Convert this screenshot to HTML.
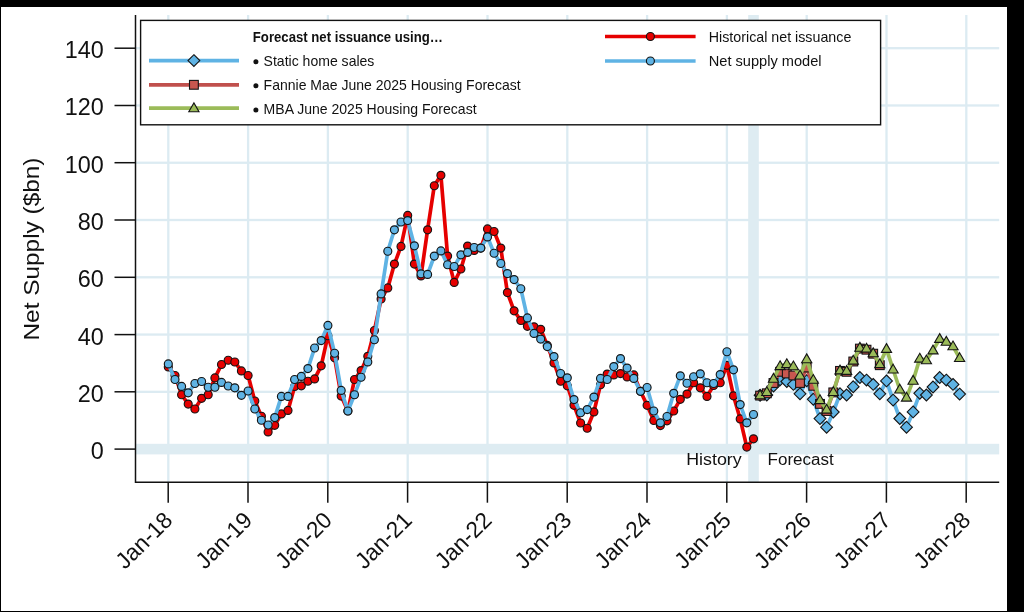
<!DOCTYPE html>
<html><head><meta charset="utf-8"><title>Net Supply</title>
<style>
html,body{margin:0;padding:0;background:#000;}
body{width:1024px;height:612px;overflow:hidden;}
svg{display:block;will-change:transform;}
.t{font-family:"Liberation Sans",sans-serif;fill:#111;}
</style></head><body>
<svg width="1024" height="612" viewBox="0 0 1024 612">
<rect x="0" y="0" width="1024" height="612" fill="#000"/>
<rect x="1" y="7" width="1006" height="604" fill="#fff"/>
<rect x="167.15" y="15" width="2.3" height="467" fill="#dcebf2"/>
<rect x="246.95" y="15" width="2.3" height="467" fill="#dcebf2"/>
<rect x="326.75" y="15" width="2.3" height="467" fill="#dcebf2"/>
<rect x="406.55" y="15" width="2.3" height="467" fill="#dcebf2"/>
<rect x="486.35" y="15" width="2.3" height="467" fill="#dcebf2"/>
<rect x="566.15" y="15" width="2.3" height="467" fill="#dcebf2"/>
<rect x="645.95" y="15" width="2.3" height="467" fill="#dcebf2"/>
<rect x="725.75" y="15" width="2.3" height="467" fill="#dcebf2"/>
<rect x="805.55" y="15" width="2.3" height="467" fill="#dcebf2"/>
<rect x="885.35" y="15" width="2.3" height="467" fill="#dcebf2"/>
<rect x="965.15" y="15" width="2.3" height="467" fill="#dcebf2"/>
<rect x="136" y="390.68" width="863.2" height="2.3" fill="#dcebf2"/>
<rect x="136" y="333.41" width="863.2" height="2.3" fill="#dcebf2"/>
<rect x="136" y="276.14" width="863.2" height="2.3" fill="#dcebf2"/>
<rect x="136" y="218.86" width="863.2" height="2.3" fill="#dcebf2"/>
<rect x="136" y="161.59" width="863.2" height="2.3" fill="#dcebf2"/>
<rect x="136" y="104.32" width="863.2" height="2.3" fill="#dcebf2"/>
<rect x="136" y="47.05" width="863.2" height="2.3" fill="#dcebf2"/>
<rect x="136" y="443.8" width="863.2" height="10.6" fill="#deecf2"/>
<rect x="748.2" y="15" width="10.6" height="467" fill="#deecf2"/>
<path d="M135.5 15 V482.2 H999.2" fill="none" stroke="#111" stroke-width="1.5"/>
<path d="M114.5 449.1 H135.5" stroke="#111" stroke-width="1.5"/>
<path d="M114.5 391.8 H135.5" stroke="#111" stroke-width="1.5"/>
<path d="M114.5 334.6 H135.5" stroke="#111" stroke-width="1.5"/>
<path d="M114.5 277.3 H135.5" stroke="#111" stroke-width="1.5"/>
<path d="M114.5 220.0 H135.5" stroke="#111" stroke-width="1.5"/>
<path d="M114.5 162.7 H135.5" stroke="#111" stroke-width="1.5"/>
<path d="M114.5 105.5 H135.5" stroke="#111" stroke-width="1.5"/>
<path d="M114.5 48.2 H135.5" stroke="#111" stroke-width="1.5"/>
<path d="M168.2 482.2 V502.7" stroke="#111" stroke-width="1.5"/>
<path d="M248.0 482.2 V502.7" stroke="#111" stroke-width="1.5"/>
<path d="M327.8 482.2 V502.7" stroke="#111" stroke-width="1.5"/>
<path d="M407.6 482.2 V502.7" stroke="#111" stroke-width="1.5"/>
<path d="M487.4 482.2 V502.7" stroke="#111" stroke-width="1.5"/>
<path d="M567.2 482.2 V502.7" stroke="#111" stroke-width="1.5"/>
<path d="M647.0 482.2 V502.7" stroke="#111" stroke-width="1.5"/>
<path d="M726.8 482.2 V502.7" stroke="#111" stroke-width="1.5"/>
<path d="M806.6 482.2 V502.7" stroke="#111" stroke-width="1.5"/>
<path d="M886.4 482.2 V502.7" stroke="#111" stroke-width="1.5"/>
<path d="M966.2 482.2 V502.7" stroke="#111" stroke-width="1.5"/>
<text x="103.8" y="459.0" text-anchor="end" font-size="23.4" class="t">0</text>
<text x="103.8" y="401.7" text-anchor="end" font-size="23.4" class="t">20</text>
<text x="103.8" y="344.5" text-anchor="end" font-size="23.4" class="t">40</text>
<text x="103.8" y="287.2" text-anchor="end" font-size="23.4" class="t">60</text>
<text x="103.8" y="229.9" text-anchor="end" font-size="23.4" class="t">80</text>
<text x="103.8" y="172.6" text-anchor="end" font-size="23.4" class="t">100</text>
<text x="103.8" y="115.4" text-anchor="end" font-size="23.4" class="t">120</text>
<text x="103.8" y="58.1" text-anchor="end" font-size="23.4" class="t">140</text>
<text transform="translate(173.9,521.5) rotate(-45)" text-anchor="end" font-size="23" textLength="69" lengthAdjust="spacingAndGlyphs" class="t">Jan-18</text>
<text transform="translate(253.7,521.5) rotate(-45)" text-anchor="end" font-size="23" textLength="69" lengthAdjust="spacingAndGlyphs" class="t">Jan-19</text>
<text transform="translate(333.5,521.5) rotate(-45)" text-anchor="end" font-size="23" textLength="69" lengthAdjust="spacingAndGlyphs" class="t">Jan-20</text>
<text transform="translate(413.3,521.5) rotate(-45)" text-anchor="end" font-size="23" textLength="69" lengthAdjust="spacingAndGlyphs" class="t">Jan-21</text>
<text transform="translate(493.1,521.5) rotate(-45)" text-anchor="end" font-size="23" textLength="69" lengthAdjust="spacingAndGlyphs" class="t">Jan-22</text>
<text transform="translate(572.9,521.5) rotate(-45)" text-anchor="end" font-size="23" textLength="69" lengthAdjust="spacingAndGlyphs" class="t">Jan-23</text>
<text transform="translate(652.7,521.5) rotate(-45)" text-anchor="end" font-size="23" textLength="69" lengthAdjust="spacingAndGlyphs" class="t">Jan-24</text>
<text transform="translate(732.5,521.5) rotate(-45)" text-anchor="end" font-size="23" textLength="69" lengthAdjust="spacingAndGlyphs" class="t">Jan-25</text>
<text transform="translate(812.3,521.5) rotate(-45)" text-anchor="end" font-size="23" textLength="69" lengthAdjust="spacingAndGlyphs" class="t">Jan-26</text>
<text transform="translate(892.1,521.5) rotate(-45)" text-anchor="end" font-size="23" textLength="69" lengthAdjust="spacingAndGlyphs" class="t">Jan-27</text>
<text transform="translate(971.9,521.5) rotate(-45)" text-anchor="end" font-size="23" textLength="69" lengthAdjust="spacingAndGlyphs" class="t">Jan-28</text>
<text transform="translate(38.6,249) rotate(-90)" text-anchor="middle" font-size="22.9" textLength="183" lengthAdjust="spacingAndGlyphs" class="t">Net Supply ($bn)</text>
<polyline fill="none" stroke="#e60000" stroke-width="3.7" stroke-linejoin="round" stroke-linecap="round" points="168.3,366.9 175.0,375.5 181.6,394.7 188.2,404.1 194.9,409.0 201.6,398.3 208.2,394.7 214.9,377.9 221.5,364.5 228.2,360.2 234.8,362.0 241.4,370.9 248.1,375.5 254.8,401.0 261.4,416.2 268.1,431.9 274.7,425.3 281.4,413.9 288.0,410.4 294.6,386.5 301.3,385.8 307.9,381.2 314.6,378.9 321.2,365.8 327.9,335.7 334.6,357.8 341.2,396.1 347.9,411.0 354.5,379.5 361.1,370.6 367.8,356.3 374.4,330.5 381.1,299.0 387.8,287.9 394.4,264.1 401.0,246.4 407.7,215.4 414.4,264.1 421.0,275.9 427.6,229.8 434.3,185.7 440.9,175.3 447.6,256.1 454.2,282.4 460.9,269.0 467.6,246.1 474.2,250.4 480.8,248.1 487.5,228.9 494.1,231.5 500.8,248.1 507.4,292.6 514.1,310.8 520.8,320.5 527.4,326.3 534.0,326.8 540.7,329.3 547.3,345.4 554.0,362.9 560.6,381.2 567.3,385.8 574.0,405.3 580.6,423.0 587.2,428.2 593.9,411.9 600.5,384.7 607.2,374.1 613.8,374.9 620.5,373.6 627.1,376.9 633.8,374.9 640.5,391.3 647.1,405.3 653.8,420.5 660.4,425.6 667.0,420.8 673.7,411.0 680.3,399.3 687.0,394.1 693.6,382.7 700.3,387.8 707.0,396.4 713.6,385.5 720.2,382.7 726.9,365.3 733.5,395.8 740.2,418.9 746.8,447.1 753.5,438.8"/>
<circle cx="168.3" cy="366.9" r="4.0" fill="#e60000" stroke="#141414" stroke-width="1.15"/>
<circle cx="175.0" cy="375.5" r="4.0" fill="#e60000" stroke="#141414" stroke-width="1.15"/>
<circle cx="181.6" cy="394.7" r="4.0" fill="#e60000" stroke="#141414" stroke-width="1.15"/>
<circle cx="188.2" cy="404.1" r="4.0" fill="#e60000" stroke="#141414" stroke-width="1.15"/>
<circle cx="194.9" cy="409.0" r="4.0" fill="#e60000" stroke="#141414" stroke-width="1.15"/>
<circle cx="201.6" cy="398.3" r="4.0" fill="#e60000" stroke="#141414" stroke-width="1.15"/>
<circle cx="208.2" cy="394.7" r="4.0" fill="#e60000" stroke="#141414" stroke-width="1.15"/>
<circle cx="214.9" cy="377.9" r="4.0" fill="#e60000" stroke="#141414" stroke-width="1.15"/>
<circle cx="221.5" cy="364.5" r="4.0" fill="#e60000" stroke="#141414" stroke-width="1.15"/>
<circle cx="228.2" cy="360.2" r="4.0" fill="#e60000" stroke="#141414" stroke-width="1.15"/>
<circle cx="234.8" cy="362.0" r="4.0" fill="#e60000" stroke="#141414" stroke-width="1.15"/>
<circle cx="241.4" cy="370.9" r="4.0" fill="#e60000" stroke="#141414" stroke-width="1.15"/>
<circle cx="248.1" cy="375.5" r="4.0" fill="#e60000" stroke="#141414" stroke-width="1.15"/>
<circle cx="254.8" cy="401.0" r="4.0" fill="#e60000" stroke="#141414" stroke-width="1.15"/>
<circle cx="261.4" cy="416.2" r="4.0" fill="#e60000" stroke="#141414" stroke-width="1.15"/>
<circle cx="268.1" cy="431.9" r="4.0" fill="#e60000" stroke="#141414" stroke-width="1.15"/>
<circle cx="274.7" cy="425.3" r="4.0" fill="#e60000" stroke="#141414" stroke-width="1.15"/>
<circle cx="281.4" cy="413.9" r="4.0" fill="#e60000" stroke="#141414" stroke-width="1.15"/>
<circle cx="288.0" cy="410.4" r="4.0" fill="#e60000" stroke="#141414" stroke-width="1.15"/>
<circle cx="294.6" cy="386.5" r="4.0" fill="#e60000" stroke="#141414" stroke-width="1.15"/>
<circle cx="301.3" cy="385.8" r="4.0" fill="#e60000" stroke="#141414" stroke-width="1.15"/>
<circle cx="307.9" cy="381.2" r="4.0" fill="#e60000" stroke="#141414" stroke-width="1.15"/>
<circle cx="314.6" cy="378.9" r="4.0" fill="#e60000" stroke="#141414" stroke-width="1.15"/>
<circle cx="321.2" cy="365.8" r="4.0" fill="#e60000" stroke="#141414" stroke-width="1.15"/>
<circle cx="327.9" cy="335.7" r="4.0" fill="#e60000" stroke="#141414" stroke-width="1.15"/>
<circle cx="334.6" cy="357.8" r="4.0" fill="#e60000" stroke="#141414" stroke-width="1.15"/>
<circle cx="341.2" cy="396.1" r="4.0" fill="#e60000" stroke="#141414" stroke-width="1.15"/>
<circle cx="347.9" cy="411.0" r="4.0" fill="#e60000" stroke="#141414" stroke-width="1.15"/>
<circle cx="354.5" cy="379.5" r="4.0" fill="#e60000" stroke="#141414" stroke-width="1.15"/>
<circle cx="361.1" cy="370.6" r="4.0" fill="#e60000" stroke="#141414" stroke-width="1.15"/>
<circle cx="367.8" cy="356.3" r="4.0" fill="#e60000" stroke="#141414" stroke-width="1.15"/>
<circle cx="374.4" cy="330.5" r="4.0" fill="#e60000" stroke="#141414" stroke-width="1.15"/>
<circle cx="381.1" cy="299.0" r="4.0" fill="#e60000" stroke="#141414" stroke-width="1.15"/>
<circle cx="387.8" cy="287.9" r="4.0" fill="#e60000" stroke="#141414" stroke-width="1.15"/>
<circle cx="394.4" cy="264.1" r="4.0" fill="#e60000" stroke="#141414" stroke-width="1.15"/>
<circle cx="401.0" cy="246.4" r="4.0" fill="#e60000" stroke="#141414" stroke-width="1.15"/>
<circle cx="407.7" cy="215.4" r="4.0" fill="#e60000" stroke="#141414" stroke-width="1.15"/>
<circle cx="414.4" cy="264.1" r="4.0" fill="#e60000" stroke="#141414" stroke-width="1.15"/>
<circle cx="421.0" cy="275.9" r="4.0" fill="#e60000" stroke="#141414" stroke-width="1.15"/>
<circle cx="427.6" cy="229.8" r="4.0" fill="#e60000" stroke="#141414" stroke-width="1.15"/>
<circle cx="434.3" cy="185.7" r="4.0" fill="#e60000" stroke="#141414" stroke-width="1.15"/>
<circle cx="440.9" cy="175.3" r="4.0" fill="#e60000" stroke="#141414" stroke-width="1.15"/>
<circle cx="447.6" cy="256.1" r="4.0" fill="#e60000" stroke="#141414" stroke-width="1.15"/>
<circle cx="454.2" cy="282.4" r="4.0" fill="#e60000" stroke="#141414" stroke-width="1.15"/>
<circle cx="460.9" cy="269.0" r="4.0" fill="#e60000" stroke="#141414" stroke-width="1.15"/>
<circle cx="467.6" cy="246.1" r="4.0" fill="#e60000" stroke="#141414" stroke-width="1.15"/>
<circle cx="474.2" cy="250.4" r="4.0" fill="#e60000" stroke="#141414" stroke-width="1.15"/>
<circle cx="480.8" cy="248.1" r="4.0" fill="#e60000" stroke="#141414" stroke-width="1.15"/>
<circle cx="487.5" cy="228.9" r="4.0" fill="#e60000" stroke="#141414" stroke-width="1.15"/>
<circle cx="494.1" cy="231.5" r="4.0" fill="#e60000" stroke="#141414" stroke-width="1.15"/>
<circle cx="500.8" cy="248.1" r="4.0" fill="#e60000" stroke="#141414" stroke-width="1.15"/>
<circle cx="507.4" cy="292.6" r="4.0" fill="#e60000" stroke="#141414" stroke-width="1.15"/>
<circle cx="514.1" cy="310.8" r="4.0" fill="#e60000" stroke="#141414" stroke-width="1.15"/>
<circle cx="520.8" cy="320.5" r="4.0" fill="#e60000" stroke="#141414" stroke-width="1.15"/>
<circle cx="527.4" cy="326.3" r="4.0" fill="#e60000" stroke="#141414" stroke-width="1.15"/>
<circle cx="534.0" cy="326.8" r="4.0" fill="#e60000" stroke="#141414" stroke-width="1.15"/>
<circle cx="540.7" cy="329.3" r="4.0" fill="#e60000" stroke="#141414" stroke-width="1.15"/>
<circle cx="547.3" cy="345.4" r="4.0" fill="#e60000" stroke="#141414" stroke-width="1.15"/>
<circle cx="554.0" cy="362.9" r="4.0" fill="#e60000" stroke="#141414" stroke-width="1.15"/>
<circle cx="560.6" cy="381.2" r="4.0" fill="#e60000" stroke="#141414" stroke-width="1.15"/>
<circle cx="567.3" cy="385.8" r="4.0" fill="#e60000" stroke="#141414" stroke-width="1.15"/>
<circle cx="574.0" cy="405.3" r="4.0" fill="#e60000" stroke="#141414" stroke-width="1.15"/>
<circle cx="580.6" cy="423.0" r="4.0" fill="#e60000" stroke="#141414" stroke-width="1.15"/>
<circle cx="587.2" cy="428.2" r="4.0" fill="#e60000" stroke="#141414" stroke-width="1.15"/>
<circle cx="593.9" cy="411.9" r="4.0" fill="#e60000" stroke="#141414" stroke-width="1.15"/>
<circle cx="600.5" cy="384.7" r="4.0" fill="#e60000" stroke="#141414" stroke-width="1.15"/>
<circle cx="607.2" cy="374.1" r="4.0" fill="#e60000" stroke="#141414" stroke-width="1.15"/>
<circle cx="613.8" cy="374.9" r="4.0" fill="#e60000" stroke="#141414" stroke-width="1.15"/>
<circle cx="620.5" cy="373.6" r="4.0" fill="#e60000" stroke="#141414" stroke-width="1.15"/>
<circle cx="627.1" cy="376.9" r="4.0" fill="#e60000" stroke="#141414" stroke-width="1.15"/>
<circle cx="633.8" cy="374.9" r="4.0" fill="#e60000" stroke="#141414" stroke-width="1.15"/>
<circle cx="640.5" cy="391.3" r="4.0" fill="#e60000" stroke="#141414" stroke-width="1.15"/>
<circle cx="647.1" cy="405.3" r="4.0" fill="#e60000" stroke="#141414" stroke-width="1.15"/>
<circle cx="653.8" cy="420.5" r="4.0" fill="#e60000" stroke="#141414" stroke-width="1.15"/>
<circle cx="660.4" cy="425.6" r="4.0" fill="#e60000" stroke="#141414" stroke-width="1.15"/>
<circle cx="667.0" cy="420.8" r="4.0" fill="#e60000" stroke="#141414" stroke-width="1.15"/>
<circle cx="673.7" cy="411.0" r="4.0" fill="#e60000" stroke="#141414" stroke-width="1.15"/>
<circle cx="680.3" cy="399.3" r="4.0" fill="#e60000" stroke="#141414" stroke-width="1.15"/>
<circle cx="687.0" cy="394.1" r="4.0" fill="#e60000" stroke="#141414" stroke-width="1.15"/>
<circle cx="693.6" cy="382.7" r="4.0" fill="#e60000" stroke="#141414" stroke-width="1.15"/>
<circle cx="700.3" cy="387.8" r="4.0" fill="#e60000" stroke="#141414" stroke-width="1.15"/>
<circle cx="707.0" cy="396.4" r="4.0" fill="#e60000" stroke="#141414" stroke-width="1.15"/>
<circle cx="713.6" cy="385.5" r="4.0" fill="#e60000" stroke="#141414" stroke-width="1.15"/>
<circle cx="720.2" cy="382.7" r="4.0" fill="#e60000" stroke="#141414" stroke-width="1.15"/>
<circle cx="726.9" cy="365.3" r="4.0" fill="#e60000" stroke="#141414" stroke-width="1.15"/>
<circle cx="733.5" cy="395.8" r="4.0" fill="#e60000" stroke="#141414" stroke-width="1.15"/>
<circle cx="740.2" cy="418.9" r="4.0" fill="#e60000" stroke="#141414" stroke-width="1.15"/>
<circle cx="746.8" cy="447.1" r="4.0" fill="#e60000" stroke="#141414" stroke-width="1.15"/>
<circle cx="753.5" cy="438.8" r="4.0" fill="#e60000" stroke="#141414" stroke-width="1.15"/>
<polyline fill="none" stroke="#5fb3e4" stroke-width="3.7" stroke-linejoin="round" stroke-linecap="round" points="168.3,363.9 175.0,379.5 181.6,386.4 188.2,392.8 194.9,383.5 201.6,381.5 208.2,387.2 214.9,387.2 221.5,382.4 228.2,386.0 234.8,387.8 241.4,395.3 248.1,391.0 254.8,409.0 261.4,420.2 268.1,425.0 274.7,417.6 281.4,396.4 288.0,396.4 294.6,379.5 301.3,376.4 307.9,368.6 314.6,348.0 321.2,340.6 327.9,325.4 334.6,353.2 341.2,390.4 347.9,411.0 354.5,394.7 361.1,377.2 367.8,361.9 374.4,339.7 381.1,293.9 387.8,251.2 394.4,229.8 401.0,222.0 407.7,220.6 414.4,245.8 421.0,273.8 427.6,274.4 434.3,256.1 440.9,250.9 447.6,264.7 454.2,266.5 460.9,254.8 467.6,252.4 474.2,247.5 480.8,248.1 487.5,236.9 494.1,253.2 500.8,263.5 507.4,273.6 514.1,279.6 520.8,288.7 527.4,317.9 534.0,333.4 540.7,339.1 547.3,346.6 554.0,356.6 560.6,373.5 567.3,377.8 574.0,399.6 580.6,412.7 587.2,409.6 593.9,397.1 600.5,378.4 607.2,379.5 613.8,366.6 620.5,358.6 627.1,368.1 633.8,378.4 640.5,391.3 647.1,387.5 653.8,411.0 660.4,422.8 667.0,416.5 673.7,393.3 680.3,375.8 687.0,383.2 693.6,376.7 700.3,373.8 707.0,382.7 713.6,383.5 720.2,374.6 726.9,351.7 733.5,369.8 740.2,404.6 746.8,422.8 753.5,414.5"/>
<circle cx="168.3" cy="363.9" r="4.0" fill="#5fb3e4" stroke="#141414" stroke-width="1.15"/>
<circle cx="175.0" cy="379.5" r="4.0" fill="#5fb3e4" stroke="#141414" stroke-width="1.15"/>
<circle cx="181.6" cy="386.4" r="4.0" fill="#5fb3e4" stroke="#141414" stroke-width="1.15"/>
<circle cx="188.2" cy="392.8" r="4.0" fill="#5fb3e4" stroke="#141414" stroke-width="1.15"/>
<circle cx="194.9" cy="383.5" r="4.0" fill="#5fb3e4" stroke="#141414" stroke-width="1.15"/>
<circle cx="201.6" cy="381.5" r="4.0" fill="#5fb3e4" stroke="#141414" stroke-width="1.15"/>
<circle cx="208.2" cy="387.2" r="4.0" fill="#5fb3e4" stroke="#141414" stroke-width="1.15"/>
<circle cx="214.9" cy="387.2" r="4.0" fill="#5fb3e4" stroke="#141414" stroke-width="1.15"/>
<circle cx="221.5" cy="382.4" r="4.0" fill="#5fb3e4" stroke="#141414" stroke-width="1.15"/>
<circle cx="228.2" cy="386.0" r="4.0" fill="#5fb3e4" stroke="#141414" stroke-width="1.15"/>
<circle cx="234.8" cy="387.8" r="4.0" fill="#5fb3e4" stroke="#141414" stroke-width="1.15"/>
<circle cx="241.4" cy="395.3" r="4.0" fill="#5fb3e4" stroke="#141414" stroke-width="1.15"/>
<circle cx="248.1" cy="391.0" r="4.0" fill="#5fb3e4" stroke="#141414" stroke-width="1.15"/>
<circle cx="254.8" cy="409.0" r="4.0" fill="#5fb3e4" stroke="#141414" stroke-width="1.15"/>
<circle cx="261.4" cy="420.2" r="4.0" fill="#5fb3e4" stroke="#141414" stroke-width="1.15"/>
<circle cx="268.1" cy="425.0" r="4.0" fill="#5fb3e4" stroke="#141414" stroke-width="1.15"/>
<circle cx="274.7" cy="417.6" r="4.0" fill="#5fb3e4" stroke="#141414" stroke-width="1.15"/>
<circle cx="281.4" cy="396.4" r="4.0" fill="#5fb3e4" stroke="#141414" stroke-width="1.15"/>
<circle cx="288.0" cy="396.4" r="4.0" fill="#5fb3e4" stroke="#141414" stroke-width="1.15"/>
<circle cx="294.6" cy="379.5" r="4.0" fill="#5fb3e4" stroke="#141414" stroke-width="1.15"/>
<circle cx="301.3" cy="376.4" r="4.0" fill="#5fb3e4" stroke="#141414" stroke-width="1.15"/>
<circle cx="307.9" cy="368.6" r="4.0" fill="#5fb3e4" stroke="#141414" stroke-width="1.15"/>
<circle cx="314.6" cy="348.0" r="4.0" fill="#5fb3e4" stroke="#141414" stroke-width="1.15"/>
<circle cx="321.2" cy="340.6" r="4.0" fill="#5fb3e4" stroke="#141414" stroke-width="1.15"/>
<circle cx="327.9" cy="325.4" r="4.0" fill="#5fb3e4" stroke="#141414" stroke-width="1.15"/>
<circle cx="334.6" cy="353.2" r="4.0" fill="#5fb3e4" stroke="#141414" stroke-width="1.15"/>
<circle cx="341.2" cy="390.4" r="4.0" fill="#5fb3e4" stroke="#141414" stroke-width="1.15"/>
<circle cx="347.9" cy="411.0" r="4.0" fill="#5fb3e4" stroke="#141414" stroke-width="1.15"/>
<circle cx="354.5" cy="394.7" r="4.0" fill="#5fb3e4" stroke="#141414" stroke-width="1.15"/>
<circle cx="361.1" cy="377.2" r="4.0" fill="#5fb3e4" stroke="#141414" stroke-width="1.15"/>
<circle cx="367.8" cy="361.9" r="4.0" fill="#5fb3e4" stroke="#141414" stroke-width="1.15"/>
<circle cx="374.4" cy="339.7" r="4.0" fill="#5fb3e4" stroke="#141414" stroke-width="1.15"/>
<circle cx="381.1" cy="293.9" r="4.0" fill="#5fb3e4" stroke="#141414" stroke-width="1.15"/>
<circle cx="387.8" cy="251.2" r="4.0" fill="#5fb3e4" stroke="#141414" stroke-width="1.15"/>
<circle cx="394.4" cy="229.8" r="4.0" fill="#5fb3e4" stroke="#141414" stroke-width="1.15"/>
<circle cx="401.0" cy="222.0" r="4.0" fill="#5fb3e4" stroke="#141414" stroke-width="1.15"/>
<circle cx="407.7" cy="220.6" r="4.0" fill="#5fb3e4" stroke="#141414" stroke-width="1.15"/>
<circle cx="414.4" cy="245.8" r="4.0" fill="#5fb3e4" stroke="#141414" stroke-width="1.15"/>
<circle cx="421.0" cy="273.8" r="4.0" fill="#5fb3e4" stroke="#141414" stroke-width="1.15"/>
<circle cx="427.6" cy="274.4" r="4.0" fill="#5fb3e4" stroke="#141414" stroke-width="1.15"/>
<circle cx="434.3" cy="256.1" r="4.0" fill="#5fb3e4" stroke="#141414" stroke-width="1.15"/>
<circle cx="440.9" cy="250.9" r="4.0" fill="#5fb3e4" stroke="#141414" stroke-width="1.15"/>
<circle cx="447.6" cy="264.7" r="4.0" fill="#5fb3e4" stroke="#141414" stroke-width="1.15"/>
<circle cx="454.2" cy="266.5" r="4.0" fill="#5fb3e4" stroke="#141414" stroke-width="1.15"/>
<circle cx="460.9" cy="254.8" r="4.0" fill="#5fb3e4" stroke="#141414" stroke-width="1.15"/>
<circle cx="467.6" cy="252.4" r="4.0" fill="#5fb3e4" stroke="#141414" stroke-width="1.15"/>
<circle cx="474.2" cy="247.5" r="4.0" fill="#5fb3e4" stroke="#141414" stroke-width="1.15"/>
<circle cx="480.8" cy="248.1" r="4.0" fill="#5fb3e4" stroke="#141414" stroke-width="1.15"/>
<circle cx="487.5" cy="236.9" r="4.0" fill="#5fb3e4" stroke="#141414" stroke-width="1.15"/>
<circle cx="494.1" cy="253.2" r="4.0" fill="#5fb3e4" stroke="#141414" stroke-width="1.15"/>
<circle cx="500.8" cy="263.5" r="4.0" fill="#5fb3e4" stroke="#141414" stroke-width="1.15"/>
<circle cx="507.4" cy="273.6" r="4.0" fill="#5fb3e4" stroke="#141414" stroke-width="1.15"/>
<circle cx="514.1" cy="279.6" r="4.0" fill="#5fb3e4" stroke="#141414" stroke-width="1.15"/>
<circle cx="520.8" cy="288.7" r="4.0" fill="#5fb3e4" stroke="#141414" stroke-width="1.15"/>
<circle cx="527.4" cy="317.9" r="4.0" fill="#5fb3e4" stroke="#141414" stroke-width="1.15"/>
<circle cx="534.0" cy="333.4" r="4.0" fill="#5fb3e4" stroke="#141414" stroke-width="1.15"/>
<circle cx="540.7" cy="339.1" r="4.0" fill="#5fb3e4" stroke="#141414" stroke-width="1.15"/>
<circle cx="547.3" cy="346.6" r="4.0" fill="#5fb3e4" stroke="#141414" stroke-width="1.15"/>
<circle cx="554.0" cy="356.6" r="4.0" fill="#5fb3e4" stroke="#141414" stroke-width="1.15"/>
<circle cx="560.6" cy="373.5" r="4.0" fill="#5fb3e4" stroke="#141414" stroke-width="1.15"/>
<circle cx="567.3" cy="377.8" r="4.0" fill="#5fb3e4" stroke="#141414" stroke-width="1.15"/>
<circle cx="574.0" cy="399.6" r="4.0" fill="#5fb3e4" stroke="#141414" stroke-width="1.15"/>
<circle cx="580.6" cy="412.7" r="4.0" fill="#5fb3e4" stroke="#141414" stroke-width="1.15"/>
<circle cx="587.2" cy="409.6" r="4.0" fill="#5fb3e4" stroke="#141414" stroke-width="1.15"/>
<circle cx="593.9" cy="397.1" r="4.0" fill="#5fb3e4" stroke="#141414" stroke-width="1.15"/>
<circle cx="600.5" cy="378.4" r="4.0" fill="#5fb3e4" stroke="#141414" stroke-width="1.15"/>
<circle cx="607.2" cy="379.5" r="4.0" fill="#5fb3e4" stroke="#141414" stroke-width="1.15"/>
<circle cx="613.8" cy="366.6" r="4.0" fill="#5fb3e4" stroke="#141414" stroke-width="1.15"/>
<circle cx="620.5" cy="358.6" r="4.0" fill="#5fb3e4" stroke="#141414" stroke-width="1.15"/>
<circle cx="627.1" cy="368.1" r="4.0" fill="#5fb3e4" stroke="#141414" stroke-width="1.15"/>
<circle cx="633.8" cy="378.4" r="4.0" fill="#5fb3e4" stroke="#141414" stroke-width="1.15"/>
<circle cx="640.5" cy="391.3" r="4.0" fill="#5fb3e4" stroke="#141414" stroke-width="1.15"/>
<circle cx="647.1" cy="387.5" r="4.0" fill="#5fb3e4" stroke="#141414" stroke-width="1.15"/>
<circle cx="653.8" cy="411.0" r="4.0" fill="#5fb3e4" stroke="#141414" stroke-width="1.15"/>
<circle cx="660.4" cy="422.8" r="4.0" fill="#5fb3e4" stroke="#141414" stroke-width="1.15"/>
<circle cx="667.0" cy="416.5" r="4.0" fill="#5fb3e4" stroke="#141414" stroke-width="1.15"/>
<circle cx="673.7" cy="393.3" r="4.0" fill="#5fb3e4" stroke="#141414" stroke-width="1.15"/>
<circle cx="680.3" cy="375.8" r="4.0" fill="#5fb3e4" stroke="#141414" stroke-width="1.15"/>
<circle cx="687.0" cy="383.2" r="4.0" fill="#5fb3e4" stroke="#141414" stroke-width="1.15"/>
<circle cx="693.6" cy="376.7" r="4.0" fill="#5fb3e4" stroke="#141414" stroke-width="1.15"/>
<circle cx="700.3" cy="373.8" r="4.0" fill="#5fb3e4" stroke="#141414" stroke-width="1.15"/>
<circle cx="707.0" cy="382.7" r="4.0" fill="#5fb3e4" stroke="#141414" stroke-width="1.15"/>
<circle cx="713.6" cy="383.5" r="4.0" fill="#5fb3e4" stroke="#141414" stroke-width="1.15"/>
<circle cx="720.2" cy="374.6" r="4.0" fill="#5fb3e4" stroke="#141414" stroke-width="1.15"/>
<circle cx="726.9" cy="351.7" r="4.0" fill="#5fb3e4" stroke="#141414" stroke-width="1.15"/>
<circle cx="733.5" cy="369.8" r="4.0" fill="#5fb3e4" stroke="#141414" stroke-width="1.15"/>
<circle cx="740.2" cy="404.6" r="4.0" fill="#5fb3e4" stroke="#141414" stroke-width="1.15"/>
<circle cx="746.8" cy="422.8" r="4.0" fill="#5fb3e4" stroke="#141414" stroke-width="1.15"/>
<circle cx="753.5" cy="414.5" r="4.0" fill="#5fb3e4" stroke="#141414" stroke-width="1.15"/>
<polyline fill="none" stroke="#5fb3e4" stroke-width="3.7" stroke-linejoin="round" stroke-linecap="round" points="760.1,395.3 766.8,395.0 773.5,386.1 780.1,379.8 786.8,381.5 793.4,384.4 800.0,393.8 806.7,380.7 813.3,399.3 820.0,418.6 826.6,427.2 833.3,412.0 840.0,393.8 846.6,395.0 853.2,386.7 859.9,377.5 866.5,380.1 873.2,384.4 879.8,393.8 886.5,380.9 893.1,400.1 899.8,418.5 906.5,427.2 913.1,411.9 919.8,393.3 926.4,395.0 933.0,387.0 939.7,377.5 946.3,380.1 953.0,384.4 959.6,394.1"/>
<path d="M760.1 389.4 L766.0 395.3 L760.1 401.2 L754.2 395.3Z" fill="#5fb3e4" stroke="#141414" stroke-width="1.1" stroke-linejoin="miter"/>
<path d="M766.8 389.1 L772.7 395.0 L766.8 400.9 L760.9 395.0Z" fill="#5fb3e4" stroke="#141414" stroke-width="1.1" stroke-linejoin="miter"/>
<path d="M773.5 380.2 L779.4 386.1 L773.5 392.0 L767.6 386.1Z" fill="#5fb3e4" stroke="#141414" stroke-width="1.1" stroke-linejoin="miter"/>
<path d="M780.1 373.9 L786.0 379.8 L780.1 385.7 L774.2 379.8Z" fill="#5fb3e4" stroke="#141414" stroke-width="1.1" stroke-linejoin="miter"/>
<path d="M786.8 375.6 L792.6 381.5 L786.8 387.4 L780.9 381.5Z" fill="#5fb3e4" stroke="#141414" stroke-width="1.1" stroke-linejoin="miter"/>
<path d="M793.4 378.5 L799.3 384.4 L793.4 390.3 L787.5 384.4Z" fill="#5fb3e4" stroke="#141414" stroke-width="1.1" stroke-linejoin="miter"/>
<path d="M800.0 387.9 L805.9 393.8 L800.0 399.7 L794.1 393.8Z" fill="#5fb3e4" stroke="#141414" stroke-width="1.1" stroke-linejoin="miter"/>
<path d="M806.7 374.8 L812.6 380.7 L806.7 386.6 L800.8 380.7Z" fill="#5fb3e4" stroke="#141414" stroke-width="1.1" stroke-linejoin="miter"/>
<path d="M813.3 393.4 L819.2 399.3 L813.3 405.2 L807.4 399.3Z" fill="#5fb3e4" stroke="#141414" stroke-width="1.1" stroke-linejoin="miter"/>
<path d="M820.0 412.7 L825.9 418.6 L820.0 424.5 L814.1 418.6Z" fill="#5fb3e4" stroke="#141414" stroke-width="1.1" stroke-linejoin="miter"/>
<path d="M826.6 421.3 L832.5 427.2 L826.6 433.1 L820.7 427.2Z" fill="#5fb3e4" stroke="#141414" stroke-width="1.1" stroke-linejoin="miter"/>
<path d="M833.3 406.1 L839.2 412.0 L833.3 417.9 L827.4 412.0Z" fill="#5fb3e4" stroke="#141414" stroke-width="1.1" stroke-linejoin="miter"/>
<path d="M840.0 387.9 L845.9 393.8 L840.0 399.7 L834.1 393.8Z" fill="#5fb3e4" stroke="#141414" stroke-width="1.1" stroke-linejoin="miter"/>
<path d="M846.6 389.1 L852.5 395.0 L846.6 400.9 L840.7 395.0Z" fill="#5fb3e4" stroke="#141414" stroke-width="1.1" stroke-linejoin="miter"/>
<path d="M853.2 380.8 L859.1 386.7 L853.2 392.6 L847.4 386.7Z" fill="#5fb3e4" stroke="#141414" stroke-width="1.1" stroke-linejoin="miter"/>
<path d="M859.9 371.6 L865.8 377.5 L859.9 383.4 L854.0 377.5Z" fill="#5fb3e4" stroke="#141414" stroke-width="1.1" stroke-linejoin="miter"/>
<path d="M866.5 374.2 L872.4 380.1 L866.5 386.0 L860.6 380.1Z" fill="#5fb3e4" stroke="#141414" stroke-width="1.1" stroke-linejoin="miter"/>
<path d="M873.2 378.5 L879.1 384.4 L873.2 390.3 L867.3 384.4Z" fill="#5fb3e4" stroke="#141414" stroke-width="1.1" stroke-linejoin="miter"/>
<path d="M879.8 387.9 L885.7 393.8 L879.8 399.7 L873.9 393.8Z" fill="#5fb3e4" stroke="#141414" stroke-width="1.1" stroke-linejoin="miter"/>
<path d="M886.5 375.0 L892.4 380.9 L886.5 386.8 L880.6 380.9Z" fill="#5fb3e4" stroke="#141414" stroke-width="1.1" stroke-linejoin="miter"/>
<path d="M893.1 394.2 L899.0 400.1 L893.1 406.0 L887.2 400.1Z" fill="#5fb3e4" stroke="#141414" stroke-width="1.1" stroke-linejoin="miter"/>
<path d="M899.8 412.6 L905.7 418.5 L899.8 424.4 L893.9 418.5Z" fill="#5fb3e4" stroke="#141414" stroke-width="1.1" stroke-linejoin="miter"/>
<path d="M906.5 421.3 L912.4 427.2 L906.5 433.1 L900.6 427.2Z" fill="#5fb3e4" stroke="#141414" stroke-width="1.1" stroke-linejoin="miter"/>
<path d="M913.1 406.0 L919.0 411.9 L913.1 417.8 L907.2 411.9Z" fill="#5fb3e4" stroke="#141414" stroke-width="1.1" stroke-linejoin="miter"/>
<path d="M919.8 387.4 L925.6 393.3 L919.8 399.2 L913.9 393.3Z" fill="#5fb3e4" stroke="#141414" stroke-width="1.1" stroke-linejoin="miter"/>
<path d="M926.4 389.1 L932.3 395.0 L926.4 400.9 L920.5 395.0Z" fill="#5fb3e4" stroke="#141414" stroke-width="1.1" stroke-linejoin="miter"/>
<path d="M933.0 381.1 L938.9 387.0 L933.0 392.9 L927.1 387.0Z" fill="#5fb3e4" stroke="#141414" stroke-width="1.1" stroke-linejoin="miter"/>
<path d="M939.7 371.6 L945.6 377.5 L939.7 383.4 L933.8 377.5Z" fill="#5fb3e4" stroke="#141414" stroke-width="1.1" stroke-linejoin="miter"/>
<path d="M946.3 374.2 L952.2 380.1 L946.3 386.0 L940.4 380.1Z" fill="#5fb3e4" stroke="#141414" stroke-width="1.1" stroke-linejoin="miter"/>
<path d="M953.0 378.5 L958.9 384.4 L953.0 390.3 L947.1 384.4Z" fill="#5fb3e4" stroke="#141414" stroke-width="1.1" stroke-linejoin="miter"/>
<path d="M959.6 388.2 L965.5 394.1 L959.6 400.0 L953.7 394.1Z" fill="#5fb3e4" stroke="#141414" stroke-width="1.1" stroke-linejoin="miter"/>
<polyline fill="none" stroke="#c0504d" stroke-width="3.7" stroke-linejoin="round" stroke-linecap="round" points="760.1,395.6 766.8,393.3 773.5,383.0 780.1,371.8 786.8,373.5 793.4,375.5 800.0,383.0 806.7,367.5 813.3,385.8 820.0,403.9 826.6,411.0 833.3,392.4 840.0,370.9 846.6,371.8 853.2,361.5 859.9,348.6 866.5,349.7 873.2,353.7 879.8,365.2"/>
<rect x="755.7" y="391.2" width="8.8" height="8.8" fill="#c8574f" stroke="#141414" stroke-width="1.1"/>
<rect x="762.4" y="388.9" width="8.8" height="8.8" fill="#c8574f" stroke="#141414" stroke-width="1.1"/>
<rect x="769.1" y="378.6" width="8.8" height="8.8" fill="#c8574f" stroke="#141414" stroke-width="1.1"/>
<rect x="775.7" y="367.4" width="8.8" height="8.8" fill="#c8574f" stroke="#141414" stroke-width="1.1"/>
<rect x="782.4" y="369.1" width="8.8" height="8.8" fill="#c8574f" stroke="#141414" stroke-width="1.1"/>
<rect x="789.0" y="371.1" width="8.8" height="8.8" fill="#c8574f" stroke="#141414" stroke-width="1.1"/>
<rect x="795.6" y="378.6" width="8.8" height="8.8" fill="#c8574f" stroke="#141414" stroke-width="1.1"/>
<rect x="802.3" y="363.1" width="8.8" height="8.8" fill="#c8574f" stroke="#141414" stroke-width="1.1"/>
<rect x="808.9" y="381.4" width="8.8" height="8.8" fill="#c8574f" stroke="#141414" stroke-width="1.1"/>
<rect x="815.6" y="399.5" width="8.8" height="8.8" fill="#c8574f" stroke="#141414" stroke-width="1.1"/>
<rect x="822.2" y="406.6" width="8.8" height="8.8" fill="#c8574f" stroke="#141414" stroke-width="1.1"/>
<rect x="828.9" y="388.0" width="8.8" height="8.8" fill="#c8574f" stroke="#141414" stroke-width="1.1"/>
<rect x="835.6" y="366.5" width="8.8" height="8.8" fill="#c8574f" stroke="#141414" stroke-width="1.1"/>
<rect x="842.2" y="367.4" width="8.8" height="8.8" fill="#c8574f" stroke="#141414" stroke-width="1.1"/>
<rect x="848.9" y="357.1" width="8.8" height="8.8" fill="#c8574f" stroke="#141414" stroke-width="1.1"/>
<rect x="855.5" y="344.2" width="8.8" height="8.8" fill="#c8574f" stroke="#141414" stroke-width="1.1"/>
<rect x="862.1" y="345.3" width="8.8" height="8.8" fill="#c8574f" stroke="#141414" stroke-width="1.1"/>
<rect x="868.8" y="349.3" width="8.8" height="8.8" fill="#c8574f" stroke="#141414" stroke-width="1.1"/>
<rect x="875.4" y="360.8" width="8.8" height="8.8" fill="#c8574f" stroke="#141414" stroke-width="1.1"/>
<polyline fill="none" stroke="#9bbb59" stroke-width="3.7" stroke-linejoin="round" stroke-linecap="round" points="760.1,395.3 766.8,392.0 773.5,378.7 780.1,366.1 786.8,364.1 793.4,366.3 800.0,375.5 806.7,359.2 813.3,379.8 820.0,400.1 826.6,409.6 833.3,392.0 840.0,370.4 846.6,370.9 853.2,360.6 859.9,347.7 866.5,348.6 873.2,353.2 879.8,364.1 886.5,348.9 893.1,369.5 899.8,389.5 906.5,397.6 913.1,380.7 919.8,358.6 926.4,360.3 933.0,350.4 939.7,338.9 946.3,341.7 953.0,346.3 959.6,358.0"/>
<path d="M760.1 390.0 L765.2 398.8 L755.0 398.8Z" fill="#9bbb59" stroke="#141414" stroke-width="1.1" stroke-linejoin="miter"/>
<path d="M766.8 386.7 L771.9 395.5 L761.7 395.5Z" fill="#9bbb59" stroke="#141414" stroke-width="1.1" stroke-linejoin="miter"/>
<path d="M773.5 373.4 L778.6 382.2 L768.4 382.2Z" fill="#9bbb59" stroke="#141414" stroke-width="1.1" stroke-linejoin="miter"/>
<path d="M780.1 360.8 L785.2 369.6 L775.0 369.6Z" fill="#9bbb59" stroke="#141414" stroke-width="1.1" stroke-linejoin="miter"/>
<path d="M786.8 358.8 L791.9 367.6 L781.6 367.6Z" fill="#9bbb59" stroke="#141414" stroke-width="1.1" stroke-linejoin="miter"/>
<path d="M793.4 361.0 L798.5 369.8 L788.3 369.8Z" fill="#9bbb59" stroke="#141414" stroke-width="1.1" stroke-linejoin="miter"/>
<path d="M800.0 370.2 L805.1 379.0 L794.9 379.0Z" fill="#9bbb59" stroke="#141414" stroke-width="1.1" stroke-linejoin="miter"/>
<path d="M806.7 353.9 L811.8 362.7 L801.6 362.7Z" fill="#9bbb59" stroke="#141414" stroke-width="1.1" stroke-linejoin="miter"/>
<path d="M813.3 374.5 L818.4 383.3 L808.2 383.3Z" fill="#9bbb59" stroke="#141414" stroke-width="1.1" stroke-linejoin="miter"/>
<path d="M820.0 394.8 L825.1 403.6 L814.9 403.6Z" fill="#9bbb59" stroke="#141414" stroke-width="1.1" stroke-linejoin="miter"/>
<path d="M826.6 404.3 L831.7 413.1 L821.5 413.1Z" fill="#9bbb59" stroke="#141414" stroke-width="1.1" stroke-linejoin="miter"/>
<path d="M833.3 386.7 L838.4 395.5 L828.2 395.5Z" fill="#9bbb59" stroke="#141414" stroke-width="1.1" stroke-linejoin="miter"/>
<path d="M840.0 365.1 L845.1 373.9 L834.9 373.9Z" fill="#9bbb59" stroke="#141414" stroke-width="1.1" stroke-linejoin="miter"/>
<path d="M846.6 365.6 L851.7 374.4 L841.5 374.4Z" fill="#9bbb59" stroke="#141414" stroke-width="1.1" stroke-linejoin="miter"/>
<path d="M853.2 355.3 L858.4 364.1 L848.1 364.1Z" fill="#9bbb59" stroke="#141414" stroke-width="1.1" stroke-linejoin="miter"/>
<path d="M859.9 342.4 L865.0 351.2 L854.8 351.2Z" fill="#9bbb59" stroke="#141414" stroke-width="1.1" stroke-linejoin="miter"/>
<path d="M866.5 343.3 L871.6 352.1 L861.4 352.1Z" fill="#9bbb59" stroke="#141414" stroke-width="1.1" stroke-linejoin="miter"/>
<path d="M873.2 347.9 L878.3 356.7 L868.1 356.7Z" fill="#9bbb59" stroke="#141414" stroke-width="1.1" stroke-linejoin="miter"/>
<path d="M879.8 358.8 L884.9 367.6 L874.7 367.6Z" fill="#9bbb59" stroke="#141414" stroke-width="1.1" stroke-linejoin="miter"/>
<path d="M886.5 343.6 L891.6 352.4 L881.4 352.4Z" fill="#9bbb59" stroke="#141414" stroke-width="1.1" stroke-linejoin="miter"/>
<path d="M893.1 364.2 L898.2 373.0 L888.0 373.0Z" fill="#9bbb59" stroke="#141414" stroke-width="1.1" stroke-linejoin="miter"/>
<path d="M899.8 384.2 L904.9 393.0 L894.7 393.0Z" fill="#9bbb59" stroke="#141414" stroke-width="1.1" stroke-linejoin="miter"/>
<path d="M906.5 392.3 L911.6 401.1 L901.4 401.1Z" fill="#9bbb59" stroke="#141414" stroke-width="1.1" stroke-linejoin="miter"/>
<path d="M913.1 375.4 L918.2 384.2 L908.0 384.2Z" fill="#9bbb59" stroke="#141414" stroke-width="1.1" stroke-linejoin="miter"/>
<path d="M919.8 353.3 L924.9 362.1 L914.6 362.1Z" fill="#9bbb59" stroke="#141414" stroke-width="1.1" stroke-linejoin="miter"/>
<path d="M926.4 355.0 L931.5 363.8 L921.3 363.8Z" fill="#9bbb59" stroke="#141414" stroke-width="1.1" stroke-linejoin="miter"/>
<path d="M933.0 345.1 L938.1 353.9 L927.9 353.9Z" fill="#9bbb59" stroke="#141414" stroke-width="1.1" stroke-linejoin="miter"/>
<path d="M939.7 333.6 L944.8 342.4 L934.6 342.4Z" fill="#9bbb59" stroke="#141414" stroke-width="1.1" stroke-linejoin="miter"/>
<path d="M946.3 336.4 L951.4 345.2 L941.2 345.2Z" fill="#9bbb59" stroke="#141414" stroke-width="1.1" stroke-linejoin="miter"/>
<path d="M953.0 341.0 L958.1 349.8 L947.9 349.8Z" fill="#9bbb59" stroke="#141414" stroke-width="1.1" stroke-linejoin="miter"/>
<path d="M959.6 352.7 L964.7 361.5 L954.5 361.5Z" fill="#9bbb59" stroke="#141414" stroke-width="1.1" stroke-linejoin="miter"/>
<text x="686.2" y="465.4" font-size="15.6" textLength="55.5" lengthAdjust="spacingAndGlyphs" class="t">History</text>
<text x="767.6" y="465.4" font-size="15.6" textLength="66.2" lengthAdjust="spacingAndGlyphs" class="t">Forecast</text>
<rect x="140.6" y="20.4" width="740" height="104.4" fill="#fff" stroke="#111" stroke-width="1.4"/>
<path d="M149.0 60.6 H239.0" stroke="#5fb3e4" stroke-width="3.7"/>
<path d="M193.9 54.7 L199.8 60.6 L193.9 66.5 L188.0 60.6Z" fill="#5fb3e4" stroke="#141414" stroke-width="1.1" stroke-linejoin="miter"/>
<path d="M149.0 84.8 H239.0" stroke="#c0504d" stroke-width="3.7"/>
<rect x="189.5" y="80.4" width="8.8" height="8.8" fill="#c8574f" stroke="#141414" stroke-width="1.1"/>
<path d="M149.0 108.2 H239.0" stroke="#9bbb59" stroke-width="3.7"/>
<path d="M193.9 102.9 L199.0 111.7 L188.8 111.7Z" fill="#9bbb59" stroke="#141414" stroke-width="1.1" stroke-linejoin="miter"/>
<path d="M605.0 36.5 H695.6" stroke="#e60000" stroke-width="3.7"/>
<circle cx="650.4" cy="36.5" r="4.0" fill="#e60000" stroke="#141414" stroke-width="1.15"/>
<path d="M605.0 61.0 H695.6" stroke="#5fb3e4" stroke-width="3.7"/>
<circle cx="650.4" cy="61.0" r="4.0" fill="#5fb3e4" stroke="#141414" stroke-width="1.15"/>
<text x="252.8" y="41.9" font-size="14.2" textLength="190.2" lengthAdjust="spacingAndGlyphs" class="t" font-weight="bold">Forecast net issuance using…</text>
<circle cx="255.9" cy="61.8" r="2.5" fill="#111"/>
<text x="263.6" y="65.9" font-size="14.2" textLength="110.8" lengthAdjust="spacingAndGlyphs" class="t">Static home sales</text>
<circle cx="255.9" cy="85.8" r="2.5" fill="#111"/>
<text x="263.6" y="90.4" font-size="14.2" textLength="257.0" lengthAdjust="spacingAndGlyphs" class="t">Fannie Mae June 2025 Housing Forecast</text>
<circle cx="255.9" cy="110.0" r="2.5" fill="#111"/>
<text x="263.6" y="113.9" font-size="14.2" textLength="213.0" lengthAdjust="spacingAndGlyphs" class="t">MBA June 2025 Housing Forecast</text>
<text x="708.8" y="41.9" font-size="14.2" textLength="142.5" lengthAdjust="spacingAndGlyphs" class="t">Historical net issuance</text>
<text x="708.8" y="65.9" font-size="14.2" textLength="112.8" lengthAdjust="spacingAndGlyphs" class="t">Net supply model</text>
</svg>
</body></html>
